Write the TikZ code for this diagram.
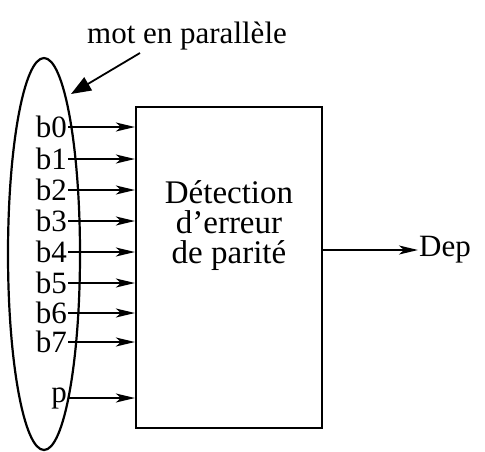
\documentclass[tikz,border=0pt]{standalone}
\usepackage{fontspec}
\setmainfont{Liberation Serif}
\usetikzlibrary{arrows.meta}
\begin{document}
\begin{tikzpicture}[x=1pt,y=-1pt,
  lbl/.style={anchor=east,inner sep=1pt,font=\fontsize{31}{31}\selectfont},
  sig/.style={line width=1.8pt,-{Stealth[length=19pt,width=9pt,inset=5pt]}},
  every node/.style={font=\fontsize{31}{31}\selectfont}]
\useasboundingbox (0,0) rectangle (485,451);
\draw[line width=2.2pt] (44,254) ellipse [x radius=36, y radius=196];
\node[draw,line width=2.2pt,minimum width=186pt,minimum height=321pt,inner sep=0pt] (box) at (229,267.5) {};
\node[align=center,inner sep=0pt,font=\fontsize{33}{30}\selectfont] (txt) at (229,226) {Détection\\d’erreur\\de parité};
\foreach \n/\y in {b0/127,b1/159,b2/190,b3/221,b4/252,b5/283,b6/313,b7/342,p/398}{
  \node[lbl] (\n) at (68,\y) {\n};
  \draw[sig] (\n.east) -- (box.west |- \n.east);
}
\node (mot) at (187,36) {mot en parallèle};
\coordinate (mt) at (140,53);
\coordinate (mh) at (71,94);
\draw[line width=1.8pt,-{Triangle[length=20pt,width=15pt]}] (mt) -- (mh);
\node[anchor=west,inner sep=1pt] (dep) at (418,250) {Dep};
\draw[sig] (box.east |- dep.west) -- (dep.west);
\end{tikzpicture}
\end{document}
